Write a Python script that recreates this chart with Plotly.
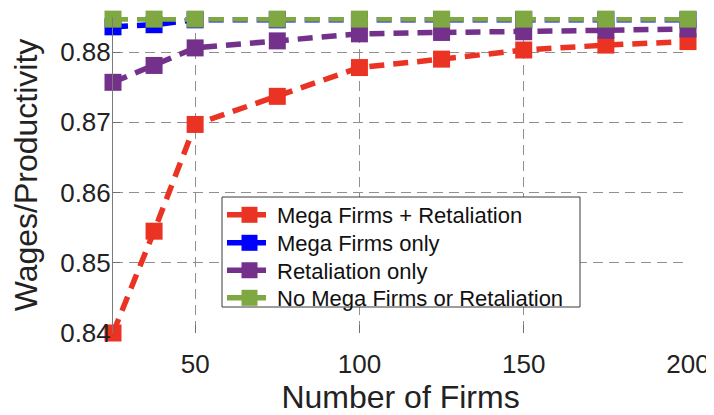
import plotly.graph_objects as go

firms = [25, 37.5, 50, 75, 100, 125, 150, 175, 200]
mega_retal = [0.8400, 0.8545, 0.8697, 0.8737, 0.8778, 0.8790, 0.8803, 0.8810, 0.8815]
mega_only = [0.8836, 0.8839, 0.8846, 0.8846, 0.8846, 0.8846, 0.8846, 0.8846, 0.8846]
retal_only = [0.8757, 0.8781, 0.8806, 0.8816, 0.8826, 0.8828, 0.8829, 0.8831, 0.8833]
no_mega_no_retal = [0.8847, 0.8847, 0.8847, 0.8847, 0.8847, 0.8847, 0.8847, 0.8847, 0.8847]

series_names = ["Mega Firms + Retaliation", "Mega Firms only", "Retaliation only",
                "No Mega Firms or Retaliation"]
series_values = [mega_retal, mega_only, retal_only, no_mega_no_retal]
colors = ["#EA3323", "#0000FF", "#73318C", "#7FA843"]

xticks = [50, 100, 150, 200]
yticks = [0.84, 0.85, 0.86, 0.87, 0.88]
ytick_labels = ["0.84", "0.85", "0.86", "0.87", "0.88"]

FONT = "Liberation Sans, Arial, Helvetica, sans-serif"

# page body has an 8px margin: the figure is placed at (8, 8) in the window
OFF = 8
W, H = 714 - OFF, 415 - OFF
ml, mr, mt, mb = 113 - OFF, 26, 17 - OFF, 82

def px_x(p):
    return (p - OFF - ml) / (W - ml - mr)

def px_y(p):
    return (H + OFF - mb - p) / (H - mt - mb)

legend_ids = ["legend", "legend2", "legend3", "legend4"]
row_centers = [215, 243, 270.5, 298]

fig = go.Figure()
for name, vals, col, lid in zip(series_names, series_values, colors, legend_ids):
    fig.add_trace(go.Scatter(
        x=firms, y=vals, name=name, mode="lines+markers",
        line=dict(color=col, width=5.5, dash="15px,9px"),
        marker=dict(symbol="square", size=17, color=col, line=dict(width=0)),
        cliponaxis=False, legend=lid,
    ))

# legend box
fig.add_shape(type="rect", xref="paper", yref="paper",
              x0=px_x(222), x1=px_x(580), y0=px_y(307), y1=px_y(197),
              fillcolor="white", line=dict(color="#3a3a3a", width=1), layer="above")

legend_style = dict(
    xanchor="left", yanchor="middle",
    bgcolor="rgba(0,0,0,0)", borderwidth=0,
    font=dict(family=FONT, size=22, color="#111111"),
    itemwidth=45,
)
layout_legends = {}
for lid, rc in zip(legend_ids, row_centers):
    layout_legends[lid] = dict(x=px_x(222), y=px_y(rc), **legend_style)

fig.update_layout(
    width=W, height=H,
    margin=dict(l=ml, r=mr, t=mt, b=mb),
    paper_bgcolor="white", plot_bgcolor="white",
    font=dict(family=FONT, color="#222222"),
    showlegend=True,
    **layout_legends,
)

fig.update_xaxes(
    range=[25, 200], tickvals=xticks, ticktext=[str(v) for v in xticks],
    showgrid=True, gridcolor="#8f8f8f", griddash="10px,6px", gridwidth=1,
    showline=False, zeroline=False,
    ticks="inside", ticklen=8, tickcolor="#6f6f6f", tickwidth=1,
    tickfont=dict(size=26, family=FONT, color="#222222"),
    ticklabelstandoff=13,
    title=dict(text="Number of Firms", font=dict(size=32, family=FONT, color="#222222"), standoff=12),
    automargin=False,
)
fig.update_yaxes(
    range=[0.84, 0.885], tickvals=yticks, ticktext=ytick_labels,
    showgrid=True, gridcolor="#8f8f8f", griddash="10px,6px", gridwidth=1,
    showline=True, linecolor="#7a7a7a", linewidth=1, mirror=False,
    zeroline=False,
    ticks="inside", ticklen=7, tickcolor="#6f6f6f", tickwidth=1,
    tickfont=dict(size=26, family=FONT, color="#222222"),
    ticklabelstandoff=-4,
    title=dict(text="Wages/Productivity", font=dict(size=32, family=FONT, color="#222222"), standoff=18),
    automargin=False,
)

fig.write_html("out.html")
